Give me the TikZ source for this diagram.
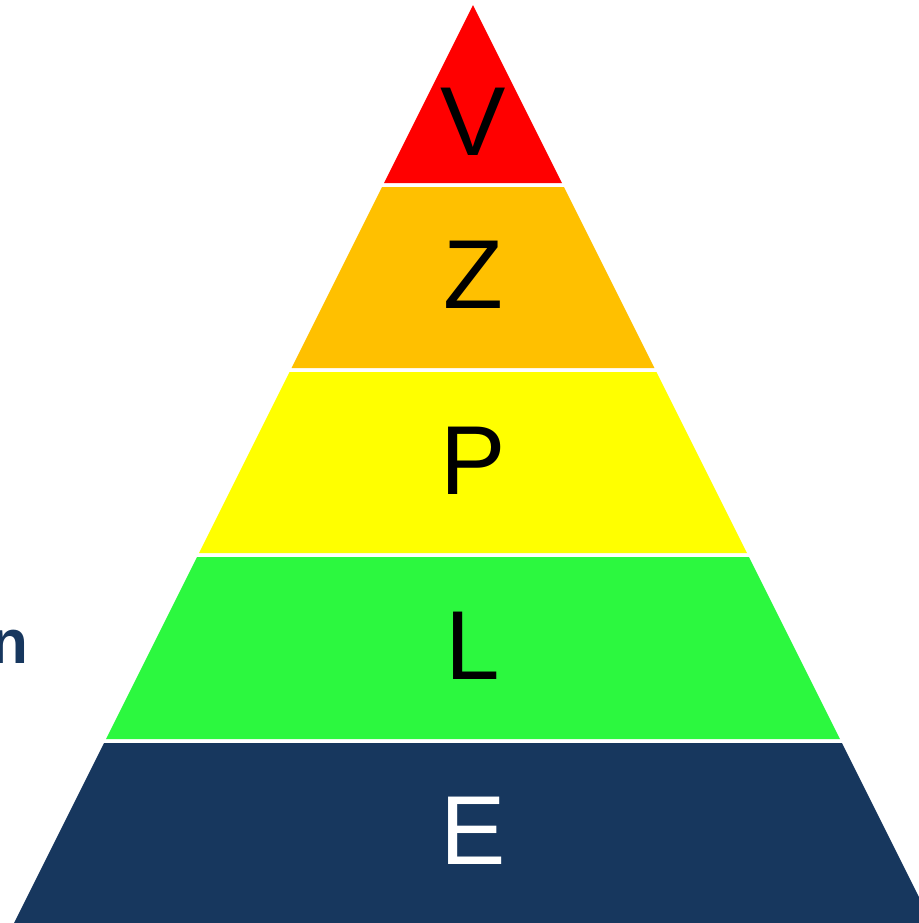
\documentclass[tikz,border=0pt]{standalone}
\usepackage{fontspec}
\setmainfont{Liberation Sans}
\definecolor{lvred}{HTML}{FF0000}
\definecolor{lvorange}{HTML}{FFC000}
\definecolor{lvyellow}{HTML}{FFFF00}
\definecolor{lvgreen}{HTML}{2CF83F}
\definecolor{lvnavy}{HTML}{17375E}
\begin{document}
\begin{tikzpicture}[x=0.5pt, y=-0.5pt,
  lvl/.style={inner sep=0pt, font=\fontsize{49}{49}\selectfont},
  tag/.style={inner sep=0pt, text=lvnavy, font=\fontsize{31}{31}\selectfont\bfseries}]
\useasboundingbox (0,0) rectangle (919,923);
\clip (0,0) rectangle (919,923);
% apex at (473,5), half width = (y-5)/2
\fill[lvred] (473,5) -- (562,183) -- (384,183) -- cycle;
\foreach \t/\b/\col in {187/368/lvorange, 372/553/lvyellow, 557/739/lvgreen, 743/923/lvnavy}
  \fill[\col] ({473-(\t-5)/2},\t) -- ({473+(\t-5)/2},\t) -- ({473+(\b-5)/2},\b) -- ({473-(\b-5)/2},\b) -- cycle;
\node[lvl] (v) at (473,122) {V};
\node[lvl] (z) at (473,275) {Z};
\node[lvl] (p) at (473,461) {P};
\node[lvl] (l) at (473,646) {L};
\node[lvl, text=white] (e) at (473,831) {E};
\node[tag, anchor=base east] (side) at (29,663) {n};
\end{tikzpicture}
\end{document}
